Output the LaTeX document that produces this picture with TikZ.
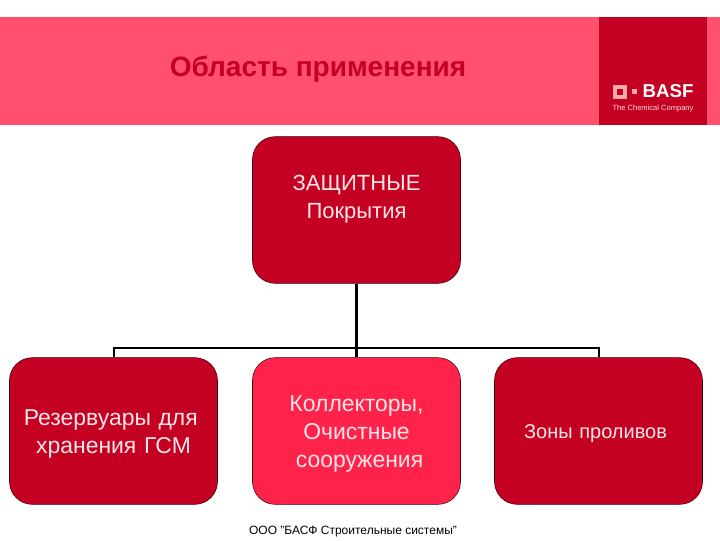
\documentclass[tikz,border=0pt]{standalone}
\usepackage{fontspec}
\setmainfont{Liberation Sans}
\usetikzlibrary{positioning}
\definecolor{bannerpink}{RGB}{255,80,110}
\definecolor{basfred}{RGB}{196,0,35}
\definecolor{brightred}{RGB}{255,35,75}
\definecolor{logopink}{RGB}{255,170,170}
\tikzset{
	branch/.style={
		rectangle,
		rounded corners=17pt,
		minimum width=156pt,
		minimum height=110pt,
		text width=150pt,
		align=center,
		inner sep=0pt,
		text height=12pt,
		draw=black!70!basfred,
		fill=basfred,
		text=white!90!red,
		font=\fontsize{17.2}{21}\selectfont
	},
	link/.style={draw=black,line width=1.5pt}
}

\begin{document}
\begin{tikzpicture}[x=0.75pt,y=-0.75pt]
	\useasboundingbox (0,0) rectangle (720,540);
	% banner
	\node (banner) [anchor=north west,fill=bannerpink,minimum width=540pt,minimum height=81pt,inner sep=0pt] at (0,17) {};
	\node (logobox) [anchor=north west,fill=basfred,minimum width=81pt,minimum height=81pt,inner sep=0pt] at (599,17) {};
	\node (title) [text=basfred,font=\fontsize{21}{24}\selectfont\bfseries] at (318,69.5) {Область применения};
	% logo
	\node (logomark) [draw=logopink,line width=3pt,minimum size=7.5pt,inner sep=0pt] at (619.5,91.5) {};
	\node (logodot) [fill=logopink,minimum size=3.75pt,inner sep=0pt] at (634.5,91.5) {};
	\node (logoname) [text=white,font=\fontsize{14}{14}\selectfont\bfseries,inner sep=0pt] at (668,91.5) {BASF};
	\node (logotag) [text=white!85!red,font=\fontsize{5.65}{6}\selectfont,inner sep=0pt] at (653,109) {The Chemical Company};
	% boxes
	\node (coatings) [branch,text depth=42pt,font=\fontsize{16.5}{21}\selectfont] at (356.5,210) {ЗАЩИТНЫЕ\\Покрытия};
	\node (tanks) [branch,text depth=20.2pt] at (113.5,431) {Резервуары для\hspace*{4pt}\mbox{}\\хранения ГСМ};
	\node (sewers) [branch,text depth=41pt,fill=brightred] at (356.5,431) {Коллекторы,\\Очистные\\\hspace*{4.5pt}сооружения};
	\node (spills) [branch,text depth=1.2pt,font=\fontsize{15}{21}\selectfont] at (598.5,431) {Зоны проливов\hspace*{4.5pt}};
	\coordinate (bus) at (356.5,348);
	% connectors
	\draw [link,line width=2.2pt] (coatings.south) -- (sewers.north);
	\draw [link] (tanks.north) |- (bus) -| (spills.north);
	\node (footer) [font=\fontsize{9}{10}\selectfont] at (353,531.5) {ООО "БАСФ Строительные системы"};
\end{tikzpicture}
\end{document}
